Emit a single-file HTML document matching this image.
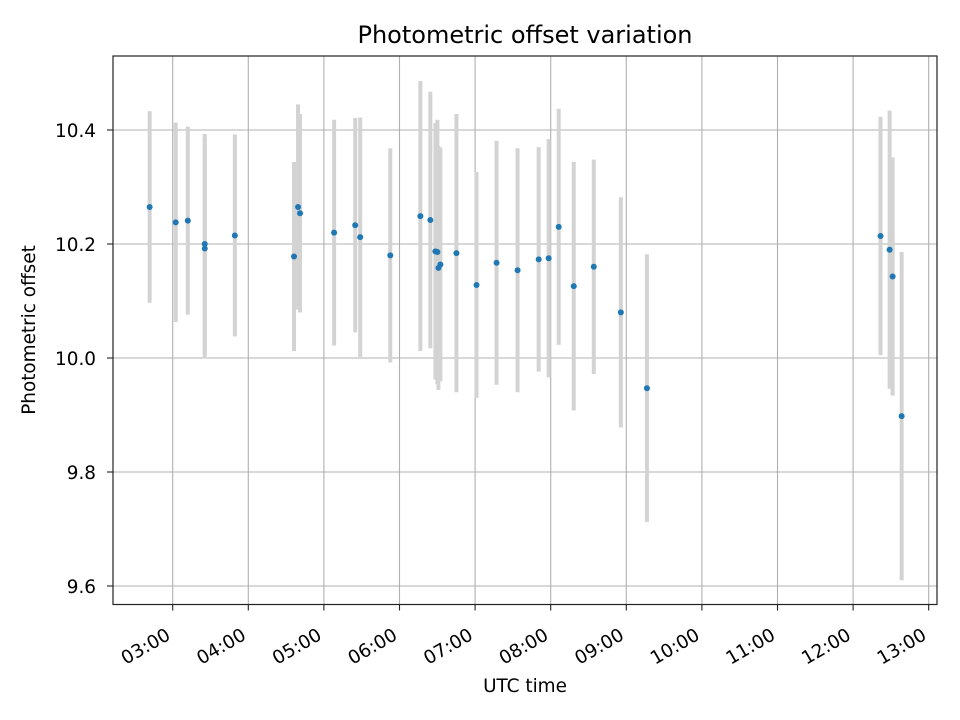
<!DOCTYPE html>
<html><head><meta charset="utf-8"><style>
body{margin:0;background:#fff}
svg{display:block;font-family:"DejaVu Sans","Liberation Sans",sans-serif}
</style></head><body>
<svg id="chart" width="960" height="720" viewBox="0 0 960 720">
<rect width="960" height="720" fill="#fff"/>
<g id="grid"></g>
<g id="errs"></g>
<g id="pts"></g>
<rect x="113" y="56" width="824" height="548.5" fill="none" stroke="#222" stroke-width="1.2"/>
<g id="ticks"></g>
<text x="525" y="43" text-anchor="middle" font-size="24" fill="#000">Photometric offset variation</text>
<text x="525" y="692" text-anchor="middle" font-size="18.4" fill="#000">UTC time</text>
<text x="35" y="330" text-anchor="middle" font-size="18.4" fill="#000" transform="rotate(-90 35 330)">Photometric offset</text>
</svg>
<script>
const times=[2.695,3.04,3.20,3.424,3.424,3.822,4.605,4.658,4.684,5.135,5.414,5.48,5.878,6.276,6.408,6.475,6.501,6.515,6.541,6.753,7.019,7.284,7.562,7.841,7.973,8.106,8.305,8.57,8.928,9.273,12.363,12.483,12.523,12.642];
const offsets=[10.265,10.238,10.241,10.200,10.192,10.215,10.178,10.265,10.254,10.22,10.233,10.212,10.18,10.249,10.242,10.187,10.186,10.158,10.164,10.184,10.128,10.167,10.154,10.173,10.175,10.23,10.126,10.16,10.08,9.947,10.214,10.19,10.143,9.898];
const errors=[0.168,0.175,0.165,0.193,0.193,0.177,0.166,0.18,0.174,0.198,0.188,0.21,0.188,0.237,0.225,0.225,0.232,0.214,0.205,0.244,0.198,0.214,0.214,0.197,0.209,0.207,0.218,0.188,0.202,0.235,0.209,0.244,0.209,0.288];
const yTicks=[9.6,9.8,10.0,10.2,10.4];
const xTicks=[3,4,5,6,7,8,9,10,11,12,13];
const xTickLabels=["03:00","04:00","05:00","06:00","07:00","08:00","09:00","10:00","11:00","12:00","13:00"];
const NS="http://www.w3.org/2000/svg";
const L=113,R=937,T=56,B=604.5;
const xs=h=>172.7+75.6*(h-3);
const ys=v=>358-(v-10)*570;
function mk(tag,attrs,parent){const e=document.createElementNS(NS,tag);for(const k in attrs)e.setAttribute(k,attrs[k]);parent.appendChild(e);return e;}
const grid=document.getElementById('grid'),ticks=document.getElementById('ticks'),errs=document.getElementById('errs'),pts=document.getElementById('pts');
xTicks.forEach((h,i)=>{const x=xs(h);
 const g=mk('line',{x1:x,x2:x,y1:T,y2:B,stroke:'#b0b0b0','stroke-width':1.1},grid);
 
 
 const t=mk('line',{x1:x,x2:x,y1:B,y2:B+6,stroke:'#222','stroke-width':1.1},ticks);
 
 
 const ax=x-1,ay=B+34;
 const lb=mk('text',{x:ax,y:ay,'text-anchor':'end','font-size':18.4,fill:'#000',transform:`rotate(-30 ${ax} ${ay})`},ticks);
 lb.textContent=xTickLabels[i];
 
 
});
yTicks.forEach(v=>{const y=ys(v);
 const g=mk('line',{x1:L,x2:R,y1:y,y2:y,stroke:'#b0b0b0','stroke-width':1.1},grid);
 
 
 const t=mk('line',{x1:L-6,x2:L,y1:y,y2:y,stroke:'#222','stroke-width':1.1},ticks);
 
 
 const lb=mk('text',{x:L-17,y:y+7,'text-anchor':'end','font-size':18.4,fill:'#000'},ticks);
 lb.textContent=v.toFixed(1);
 
 
});
times.forEach((h,i)=>{const x=xs(h);
 const e=mk('line',{x1:x,x2:x,y1:ys(offsets[i]+errors[i]),y2:ys(offsets[i]-errors[i]),stroke:'#d3d3d3','stroke-width':4},errs);
 
 
});
times.forEach((h,i)=>{
 const c=mk('circle',{cx:xs(h),cy:ys(offsets[i]),r:3,fill:'#1f77b4'},pts);
 
 
});
</script>
</body></html>
